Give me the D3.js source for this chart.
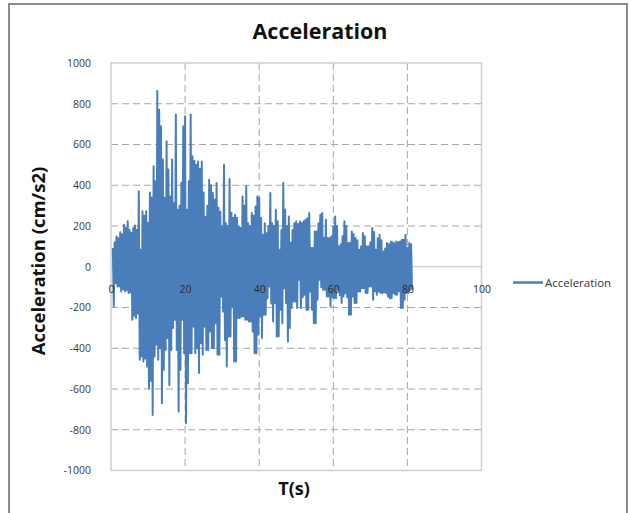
<!DOCTYPE html>
<html>
<head>
<meta charset="utf-8">
<script src="https://cdnjs.cloudflare.com/ajax/libs/d3/7.8.5/d3.min.js"></script>
<style>
body { margin: 0; background: #fff; }
svg { display: block; }
</style>
</head>
<body>
<svg width="629" height="513"></svg>
<script>
// record: one positive peak and one negative trough every dt seconds
var dt = 0.5;
var t0 = 0.5;

var peaks = [
    92, 120, 149, 140, 169, 160, 206, 190, 223, 182,
    167, 190, 203, 182, 370, 83, 272, 250, 272, 216,
    365, 340, 493, 420, 862, 771, 690, 526, 339, 616,
    477, 345, 526, 313, 747, 280, 300, 412, 690, 739,
    280, 420, 747, 542, 520, 501, 517, 480, 517, 364,
    246, 300, 427, 400, 362, 330, 411, 290, 270, 198,
    501, 214, 200, 431, 265, 240, 255, 240, 198, 190,
    345, 300, 395, 214, 200, 264, 250, 296, 345, 339,
    240, 157, 214, 165, 200, 362, 214, 200, 280, 223,
    84, 180, 411, 280, 200, 247, 118, 180, 214, 223,
    210, 223, 215, 223, 231, 239, 264, 92, 92, 173,
    173, 214, 255, 264, 141, 231, 141, 141, 150, 198,
    247, 200, 100, 110, 150, 223, 200, 116, 116, 173,
    160, 141, 130, 84, 100, 166, 150, 100, 100, 120,
    190, 170, 84, 140, 157, 130, 75, 90, 116, 110,
    124, 120, 115, 124, 120, 124, 133, 133, 157, 92,
    116, 110
];

var troughs = [
    -195, -80, -97, -97, -121, -110, -121, -115, -129, -125,
    -260, -240, -252, -230, -457, -440, -465, -450, -490, -596,
    -560, -727, -441, -383, -457, -400, -670, -506, -408, -350,
    -580, -408, -300, -260, -408, -711, -506, -260, -424, -768,
    -572, -424, -424, -293, -424, -400, -522, -375, -432, -293,
    -408, -408, -318, -400, -400, -277, -432, -432, -146, -220,
    -359, -490, -342, -342, -195, -465, -465, -252, -252, -244,
    -244, -260, -260, -269, -269, -318, -424, -424, -334, -244,
    -350, -236, -236, -154, -97, -180, -269, -178, -342, -342,
    -211, -277, -105, -178, -367, -300, -203, -170, -170, -203,
    -64, -203, -150, -137, -211, -211, -121, -211, -277, -277,
    -162, -64, -100, -113, -113, -146, -146, -195, -150, -154,
    -154, -113, -140, -178, -146, -130, -150, -236, -236, -146,
    -178, -178, -121, -121, -105, -105, -129, -129, -97, -97,
    -162, -120, -137, -121, -129, -129, -125, -129, -146, -154,
    -154, -130, -137, -137, -120, -203, -203, -162, -129, -129,
    -113, -113
];

var xTicks = [0, 20, 40, 60, 80, 100];
var yTicks = [-1000, -800, -600, -400, -200, 0, 200, 400, 600, 800, 1000];
var seriesName = 'Acceleration';

var svg = d3.select('svg');
var font = '"Open Sans", "Noto Sans", sans-serif';
var blue = '#4a7ebb';

// outer chart frame
svg.append('rect')
    .attr('x', 0).attr('y', 0)
    .attr('width', 629).attr('height', 513)
    .attr('fill', '#fff');

svg.append('rect')
    .attr('x', 9).attr('y', 4)
    .attr('width', 618).attr('height', 520)
    .attr('fill', '#fff')
    .attr('stroke', '#8c8c8c')
    .attr('stroke-width', 2);

var plot = {l: 111, r: 481.5, t: 63, b: 470.5};

var x = d3.scaleLinear().domain([0, 100]).range([plot.l, plot.r]);
var y = d3.scaleLinear().domain([-1000, 1000]).range([plot.b, plot.t]);

// gridlines
svg.append('g')
    .selectAll('line')
    .data(yTicks.filter(d => d > -1000 && d < 1000 && d !== 0))
    .enter().append('line')
    .attr('x1', plot.l).attr('x2', plot.r)
    .attr('y1', d => y(d)).attr('y2', d => y(d))
    .attr('stroke', '#a6a6a6')
    .attr('stroke-width', 1)
    .attr('stroke-dasharray', '7,4');

svg.append('g')
    .selectAll('line')
    .data(xTicks.filter(d => d > 0 && d < 100))
    .enter().append('line')
    .attr('x1', d => x(d)).attr('x2', d => x(d))
    .attr('y1', plot.t).attr('y2', plot.b)
    .attr('stroke', '#a6a6a6')
    .attr('stroke-width', 1)
    .attr('stroke-dasharray', '7,4');

// plot area border
svg.append('rect')
    .attr('x', plot.l).attr('y', plot.t)
    .attr('width', plot.r - plot.l).attr('height', plot.b - plot.t)
    .attr('fill', 'none')
    .attr('stroke', '#cfcfcf')
    .attr('stroke-width', 1.5);

// horizontal axis line at zero
svg.append('line')
    .attr('x1', plot.l).attr('x2', plot.r)
    .attr('y1', y(0)).attr('y2', y(0))
    .attr('stroke', '#bfbfbf')
    .attr('stroke-width', 1.2);

// the series: peak then trough for each sample step
var points = [];
peaks.forEach(function(p, i) {
    points.push([t0 + i * dt, p]);
    points.push([t0 + i * dt + dt / 2, troughs[i]]);
});

var line = d3.line()
    .x(d => x(d[0]))
    .y(d => y(d[1]));

svg.append('path')
    .datum(points)
    .attr('d', line)
    .attr('fill', 'none')
    .attr('stroke', blue)
    .attr('stroke-width', 2)
    .attr('stroke-linejoin', 'round');

// y axis labels, plain hyphen minus like Excel
var yAxis = d3.axisLeft(y)
    .tickValues(yTicks)
    .tickFormat(d => String(d))
    .tickSize(0)
    .tickPadding(20);

svg.append('g')
    .attr('transform', 'translate(' + plot.l + ',0)')
    .call(yAxis)
    .call(g => g.select('.domain').remove())
    .selectAll('text')
    .style('font-family', font)
    .style('font-size', '10.5px')
    .attr('fill', '#3a3a3a');

// x axis labels sit below the zero line
var xAxis = d3.axisBottom(x)
    .tickValues(xTicks)
    .tickFormat(d => String(d))
    .tickSize(0)
    .tickPadding(19);

svg.append('g')
    .attr('transform', 'translate(0,' + y(0) + ')')
    .call(xAxis)
    .call(g => g.select('.domain').remove())
    .selectAll('text')
    .style('font-family', font)
    .style('font-size', '10.5px')
    .attr('fill', '#2a2a2a');

// titles
svg.append('text')
    .attr('x', 320)
    .attr('y', 39)
    .attr('text-anchor', 'middle')
    .style('font-family', font)
    .style('font-size', '21.5px')
    .style('font-weight', 'bold')
    .attr('fill', '#111')
    .text('Acceleration');

svg.append('text')
    .attr('transform', 'translate(45,261) rotate(-90)')
    .attr('text-anchor', 'middle')
    .style('font-family', font)
    .style('font-size', '18.5px')
    .style('font-weight', 'bold')
    .attr('fill', '#111')
    .text('Acceleration (cm/s2)');

svg.append('text')
    .attr('x', 294)
    .attr('y', 495)
    .attr('text-anchor', 'middle')
    .style('font-family', font)
    .style('font-size', '18px')
    .style('font-weight', 'bold')
    .attr('fill', '#111')
    .text('T(s)');

// legend
var legend = svg.append('g')
    .attr('transform', 'translate(513,282.5)');

legend.append('line')
    .attr('x1', 0).attr('x2', 30)
    .attr('y1', 0).attr('y2', 0)
    .attr('stroke', blue)
    .attr('stroke-width', 2.5);

legend.append('text')
    .attr('x', 32)
    .attr('y', 4)
    .style('font-family', font)
    .style('font-size', '11.5px')
    .attr('fill', '#333')
    .text(seriesName);
</script>
</body>
</html>
